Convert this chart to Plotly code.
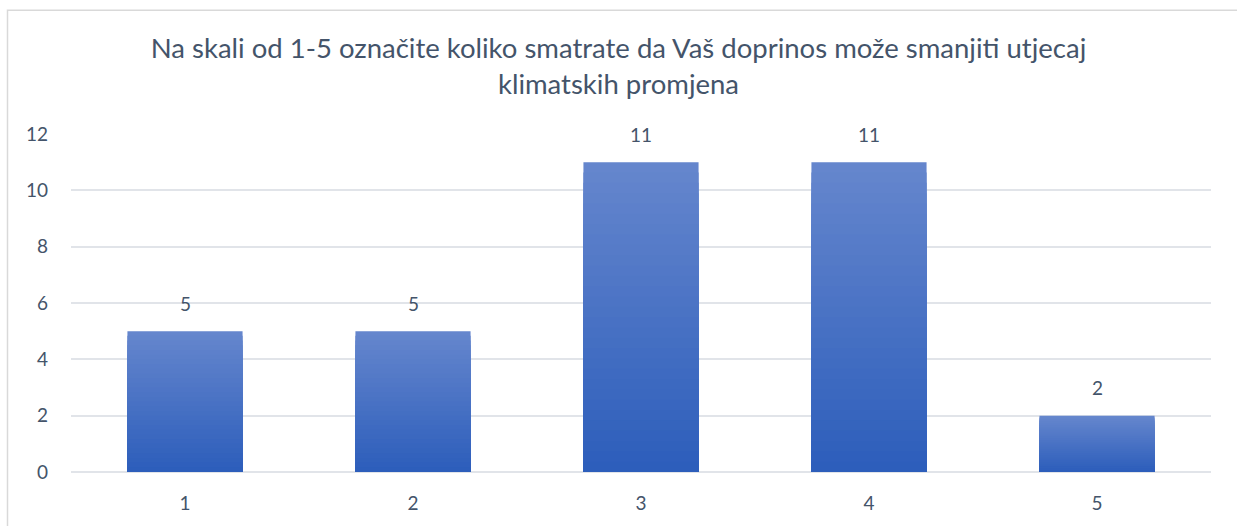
import plotly.graph_objects as go

categories = ["1", "2", "3", "4", "5"]
values = [5, 5, 11, 11, 2]
y_ticks = [0, 2, 4, 6, 8, 10, 12]
title_text = "Na skali od 1-5 označite koliko smatrate da Vaš doprinos može smanjiti utjecaj<br>klimatskih promjena"

TEXT = "#44546A"
GRID = "#E1E4E9"
TOP = (101, 134, 205)
BOT = (45, 94, 187)
FONT = "Lato"

fig = go.Figure()

# vertical gradient per bar: overlay successively shorter, darker bars
N = 30
for i in range(N):
    f = 1 - i / N
    t = i / (N - 1)
    c = tuple(round(TOP[k] + (BOT[k] - TOP[k]) * t) for k in range(3))
    fig.add_trace(go.Bar(
        x=categories, y=[v * f for v in values],
        marker=dict(color="rgb(%d,%d,%d)" % c, line=dict(width=0)),
        showlegend=False, hoverinfo="skip" if i else None,
    ))

# data labels (category index positions on the category axis)
for idx, v in enumerate(values):
    fig.add_annotation(x=idx, y=v, text=str(v), showarrow=False, yshift=28,
                       font=dict(family=FONT, size=19, color=TEXT))

fig.add_shape(type="rect", xref="paper", yref="paper",
              x0=-0.0557, x1=1.2, y0=-0.4, y1=1.366,
              line=dict(color="#D9D9D9", width=1.5), fillcolor="rgba(0,0,0,0)",
              layer="below")

fig.update_layout(
    width=1237, height=526,
    margin=dict(l=71, r=26, t=134, b=51),
    paper_bgcolor="white", plot_bgcolor="white",
    barmode="overlay", bargap=0.495,
    title=dict(text=title_text, x=0.5, xanchor="center", xref="container",
               y=1 - 58 / 526, yanchor="top", yref="container",
               font=dict(family=FONT, size=27.5, color=TEXT)),
    font=dict(family=FONT, size=19, color=TEXT),
    xaxis=dict(type="category", range=[-0.5, 4.5], showgrid=False, zeroline=False,
               showline=False, ticks="", ticklabelstandoff=18,
               tickfont=dict(size=19, color=TEXT)),
    yaxis=dict(range=[0, 12], tickvals=y_ticks, showgrid=True, gridcolor=GRID,
               gridwidth=1.5, zeroline=True, zerolinecolor=GRID, zerolinewidth=1.5,
               showline=False, ticks="", ticklabelstandoff=22,
               tickfont=dict(size=19, color=TEXT)),
)

fig.write_html("out.html", config={"displayModeBar": False},
               post_script="document.body.style.margin='0';")
